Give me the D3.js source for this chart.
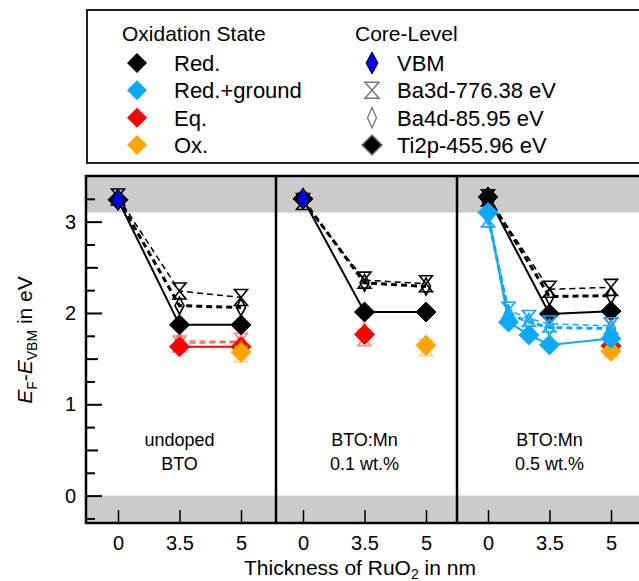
<!DOCTYPE html>
<html>
<head>
<meta charset="utf-8">
<script src="https://cdn.jsdelivr.net/npm/d3@7"></script>
<style>
  body { margin: 0; background: #fff; }
  svg { display: block; font-family: "Liberation Sans", Arial, sans-serif; }
</style>
</head>
<body>
<div id="chart"></div>
<script>
// Tick labels and panel names
const xTicks = [0, 3.5, 5];
const yTicks = [0, 1, 2, 3];
const panelNames = [["undoped", "BTO"], ["BTO:Mn", "0.1 wt.%"], ["BTO:Mn", "0.5 wt.%"]];

// Legend
const stateNames = ["Red.", "Red.+ground", "Eq.", "Ox."];
const stateColors = ["#000000", "#0aa9ff", "#ff0000", "#ffa500"];
const levelNames = ["VBM", "Ba3d-776.38 eV", "Ba4d-85.95 eV", "Ti2p-455.96 eV"];

// VBM at 0 nm, one per panel
const vbm = [3.24, 3.25, 3.22];

// Red. (black), [thickness, E_F - E_VBM] per panel
const redTi2p = [[[0, 3.24], [3.5, 1.87], [5, 1.87]], [[0, 3.25], [3.5, 2.01], [5, 2.01]], [[0, 3.27], [3.5, 1.99], [5, 2.02]]];
const redBa3d = [[[0, 3.27], [3.5, 2.24], [5, 2.17]], [[0, 3.22], [3.5, 2.36], [5, 2.32]], [[0, 3.26], [3.5, 2.26], [5, 2.28]]];
const redBa4d = [[[0, 3.25], [3.5, 2.08], [5, 2.06]], [[0, 3.24], [3.5, 2.33], [5, 2.29]], [[0, 3.27], [3.5, 2.18], [5, 2.19]]];

// Red.+ground (light blue), only 0.5 wt.%
const groundTi2p = [[], [], [[0, 3.10], [1.17, 1.90], [2.33, 1.76], [3.5, 1.65], [5, 1.72]]];
const groundBa3d = [[], [], [[0, 3.03], [1.17, 2.03], [2.33, 1.94], [3.5, 1.88], [5, 1.86]]];
const groundBa4d = [[], [], [[0, 3.06], [1.17, 1.99], [2.33, 1.90], [3.5, 1.84], [5, 1.83]]];

// Eq. (red)
const eqTi2p = [[[3.5, 1.63], [5, 1.63]], [[3.5, 1.765]], [[5, 1.64]]];
const eqBa3d = [[[3.5, 1.66], [5, 1.69]], [[3.5, 1.73]], [[5, 1.85]]];
const eqBa4d = [[[3.5, 1.69], [5, 1.68]], [[3.5, 1.80]], [[5, 1.82]]];

// Ox. (orange)
const oxTi2p = [[[5, 1.57]], [[5, 1.645]], [[5, 1.58]]];
const oxBa3d = [[[5, 1.55]], [[5, 1.62]], [[5, 1.60]]];
const oxBa4d = [[[5, 1.60]], [[5, 1.66]], [[5, 1.62]]];

const width = 639;
const height = 581;
const plotTop = 176;
const plotBottom = 523;
const panelEdges = [86, 276, 457, 660];
const panelZero = [118, 303, 488];
const step = 61.5;

const svg = d3.select("#chart").append("svg")
  .attr("width", width)
  .attr("height", height)
  .attr("viewBox", [0, 0, width, height]);

const y = d3.scaleLinear().domain([-0.3, 3.5]).range([plotBottom, plotTop]);
const xScales = panelZero.map(x0 => d3.scaleLinear().domain([0, 3.5, 5]).range([x0, x0 + step, x0 + 2 * step]));

// marker shapes
const diamond = (w, h) => `M0,${-h}L${w},0L0,${h}L${-w},0Z`;
const hourglass = (w, h) => `M${-w},${-h}L${w},${-h}L${-w},${h}L${w},${h}Z`;

const levelStyle = {
  ti2p: { shape: diamond(10, 10), filled: true, dash: null, lw: 2 },
  ba3d: { shape: hourglass(6.5, 8), filled: false, dash: "6,4", lw: 1.5 },
  ba4d: { shape: diamond(4.5, 8.5), filled: false, dash: "6,4", lw: 3 }
};

// gray bands outside the gap
svg.append("rect").attr("x", panelEdges[0]).attr("y", y(3.5))
  .attr("width", panelEdges[3] - panelEdges[0]).attr("height", y(3.1) - y(3.5)).attr("fill", "#cbcbcb");
svg.append("rect").attr("x", panelEdges[0]).attr("y", y(0))
  .attr("width", panelEdges[3] - panelEdges[0]).attr("height", y(-0.3) - y(0)).attr("fill", "#cbcbcb");

// y axis ticks (inward)
const yAxis = svg.append("g").attr("transform", `translate(${panelEdges[0]},0)`);
yAxis.call(d3.axisLeft(y).tickValues(yTicks).tickSize(-16).tickPadding(10).tickFormat(d3.format("d")));
yAxis.append("g").call(d3.axisLeft(y).tickValues(d3.range(-0.25, 3.3, 0.5)).tickSize(-9).tickFormat(""));
yAxis.append("g").call(d3.axisLeft(y).tickValues([0.5, 1.5, 2.5]).tickSize(-12).tickFormat(""));
yAxis.selectAll(".domain").remove();
yAxis.selectAll("line").attr("stroke", "#000").attr("stroke-width", 2);
yAxis.selectAll("text").attr("font-size", 20).attr("fill", "#000").attr("font-family", null);

// x axes per panel
xScales.forEach((x, i) => {
  const g = svg.append("g").attr("transform", `translate(0,${plotBottom})`)
    .call(d3.axisBottom(x).tickValues(xTicks).tickSize(-13).tickPadding(13).tickFormat(d => d));
  g.select(".domain").remove();
  g.selectAll("line").attr("stroke", "#000").attr("stroke-width", 1.5);
  g.selectAll("text").attr("font-size", 20).attr("fill", "#000").attr("font-family", null);
});

function drawSeries(p, data, level, color, faded) {
  const pts = data[p];
  if (!pts.length) return;
  const x = xScales[p];
  const st = levelStyle[level];
  const g = svg.append("g").attr("opacity", faded && level !== "ti2p" ? 0.45 : 1);
  if (pts.length > 1) {
    g.append("path")
      .datum(pts)
      .attr("fill", "none")
      .attr("stroke", color)
      .attr("stroke-width", st.lw)
      .attr("stroke-dasharray", st.dash)
      .attr("d", d3.line().x(d => x(d[0])).y(d => y(d[1])));
  }
  g.selectAll("path.m")
    .data(pts)
    .join("path")
    .attr("class", "m")
    .attr("transform", d => `translate(${x(d[0])},${y(d[1])})`)
    .attr("d", st.shape)
    .attr("fill", st.filled ? color : "none")
    .attr("stroke", color)
    .attr("stroke-width", st.filled ? 1 : 1.6);
}

function drawVBM(p) {
  svg.append("path")
    .attr("transform", `translate(${xScales[p](0)},${y(vbm[p])})`)
    .attr("d", diamond(6, 11))
    .attr("fill", "#0000ff")
    .attr("stroke", "#000")
    .attr("stroke-width", 1);
}

for (let p = 0; p < 3; p++) {
  // Eq.
  drawSeries(p, eqBa3d, "ba3d", stateColors[2], true);
  drawSeries(p, eqBa4d, "ba4d", stateColors[2], true);
  drawSeries(p, eqTi2p, "ti2p", stateColors[2], true);
  // Ox.
  drawSeries(p, oxBa3d, "ba3d", stateColors[3], true);
  drawSeries(p, oxBa4d, "ba4d", stateColors[3], true);
  drawSeries(p, oxTi2p, "ti2p", stateColors[3], true);
  if (p === 2) drawVBM(p);
  // Red.
  drawSeries(p, redBa3d, "ba3d", stateColors[0], false);
  drawSeries(p, redBa4d, "ba4d", stateColors[0], false);
  drawSeries(p, redTi2p, "ti2p", stateColors[0], false);
  if (p !== 2) drawVBM(p);
  // Red.+ground
  drawSeries(p, groundBa3d, "ba3d", stateColors[1], false);
  drawSeries(p, groundBa4d, "ba4d", stateColors[1], false);
  drawSeries(p, groundTi2p, "ti2p", stateColors[1], false);
}

// panel labels
panelNames.forEach((lines, p) => {
  const t = svg.append("text")
    .attr("x", xScales[p](3.5))
    .attr("y", 446)
    .attr("text-anchor", "middle")
    .attr("font-size", 18);
  lines.forEach((s, i) => t.append("tspan").attr("x", xScales[p](3.5)).attr("dy", i ? 24 : 0).text(s));
});

// frame and panel dividers
svg.append("rect")
  .attr("x", panelEdges[0]).attr("y", plotTop)
  .attr("width", panelEdges[3] - panelEdges[0]).attr("height", plotBottom - plotTop)
  .attr("fill", "none").attr("stroke", "#000").attr("stroke-width", 2.5);
svg.selectAll("line.div")
  .data(panelEdges.slice(1, 3))
  .join("line")
  .attr("x1", d => d).attr("x2", d => d)
  .attr("y1", plotTop).attr("y2", plotBottom)
  .attr("stroke", "#000").attr("stroke-width", 2.5);

// axis titles
svg.append("text")
  .attr("x", 360).attr("y", 575)
  .attr("text-anchor", "middle").attr("font-size", 21)
  .call(t => {
    t.append("tspan").text("Thickness of RuO");
    t.append("tspan").attr("font-size", 14).attr("dy", 4).text("2");
    t.append("tspan").attr("dy", -4).text(" in nm");
  });

svg.append("text")
  .attr("transform", "translate(32,340) rotate(-90)")
  .attr("text-anchor", "middle").attr("font-size", 21)
  .call(t => {
    t.append("tspan").attr("font-style", "italic").text("E");
    t.append("tspan").attr("font-size", 14).attr("dy", 5).text("F");
    t.append("tspan").attr("dy", -5).text("-");
    t.append("tspan").attr("font-style", "italic").text("E");
    t.append("tspan").attr("font-size", 14).attr("dy", 5).text("VBM");
    t.append("tspan").attr("dy", -5).text(" in eV");
  });

// legend
const legend = svg.append("g");
legend.append("rect")
  .attr("x", 87).attr("y", 10).attr("width", 600).attr("height", 153)
  .attr("fill", "#fff").attr("stroke", "#222").attr("stroke-width", 2);
legend.append("text").attr("x", 122).attr("y", 41).attr("font-size", 21).text("Oxidation State");
legend.append("text").attr("x", 355).attr("y", 41).attr("font-size", 21).text("Core-Level");

const rowY = d3.scaleLinear().domain([0, 3]).range([63, 145]);
stateNames.forEach((name, i) => {
  legend.append("path")
    .attr("transform", `translate(137,${rowY(i)})`)
    .attr("d", diamond(10, 10))
    .attr("fill", stateColors[i]);
  legend.append("text")
    .attr("x", 174).attr("y", rowY(i)).attr("dy", "0.36em")
    .attr("font-size", 22).text(name);
});

const levelShapes = [
  { d: diamond(6, 11), fill: "#0000ff", stroke: "#000", sw: 1 },
  { d: hourglass(7, 8), fill: "none", stroke: "#777", sw: 1.5 },
  { d: diamond(4.5, 10), fill: "none", stroke: "#777", sw: 1.3 },
  { d: diamond(10, 10), fill: "#000", stroke: "#777", sw: 1.5 }
];
levelNames.forEach((name, i) => {
  const s = levelShapes[i];
  legend.append("path")
    .attr("transform", `translate(372,${rowY(i)})`)
    .attr("d", s.d)
    .attr("fill", s.fill).attr("stroke", s.stroke).attr("stroke-width", s.sw);
  legend.append("text")
    .attr("x", 397).attr("y", rowY(i)).attr("dy", "0.36em")
    .attr("font-size", 22).text(name);
});
</script>
</body>
</html>
